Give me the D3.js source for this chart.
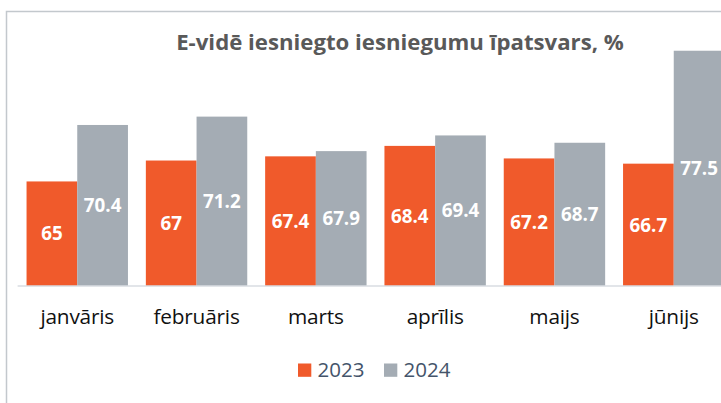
<!DOCTYPE html>
<html>
<head>
<meta charset="utf-8">
<script src="https://cdn.jsdelivr.net/npm/d3@7"></script>
<style>
  body { margin: 0; background: #fff; }
  text { font-family: "Open Sans", sans-serif; }
</style>
</head>
<body>
<div id="chart"></div>
<script>

// data
var months = ["janvāris", "februāris", "marts", "aprīlis", "maijs", "jūnijs"];
var years = ["2023", "2024"];
var values2023 = [65, 67, 67.4, 68.4, 67.2, 66.7];
var values2024 = [70.4, 71.2, 67.9, 69.4, 68.7, 77.5];
var colors = ["#f05a2b", "#a4acb4"];

var width = 721, height = 403;

var svg = d3.select("#chart")
    .append("svg")
    .attr("width", width)
    .attr("height", height);

// frame of the chart area (cut off on the right)
svg.append("path")
    .attr("d", "M6.5," + height + "V11.5H" + width)
    .attr("fill", "none")
    .attr("stroke", "#c3c8cd")
    .attr("stroke-width", 1.5);

// title
svg.append("text")
    .attr("x", 400)
    .attr("y", 50)
    .attr("text-anchor", "middle")
    .style("font-size", "22.2px")
    .style("font-weight", "bold")
    .style("fill", "#595959")
    .text("E-vidē iesniegto iesniegumu īpatsvars, %");

// scales
var x = d3.scaleBand()
    .domain(months)
    .range([17.6, 733.4])
    .paddingInner(0.15)
    .paddingOuter(0.075);

var xSub = d3.scaleBand()
    .domain(years)
    .range([0, x.bandwidth()]);

var y = d3.scaleLinear()
    .domain([55, 80])
    .range([286, 24.6]);

var rows = months.map(function (m, i) {
    return { month: m, vals: [values2023[i], values2024[i]] };
});

var groups = svg.selectAll(".grp")
    .data(rows)
    .enter()
    .append("g")
    .attr("transform", function (d) { return "translate(" + x(d.month) + ",0)"; });

var cells = groups.selectAll(".cell")
    .data(function (d) { return d.vals.map(function (v, j) { return { year: years[j], v: v, j: j }; }); })
    .enter()
    .append("g");

cells.append("rect")
    .attr("x", function (d) { return xSub(d.year); })
    .attr("width", xSub.bandwidth())
    .attr("y", function (d) { return y(d.v); })
    .attr("height", function (d) { return y(55) - y(d.v); })
    .attr("fill", function (d) { return colors[d.j]; });

// value labels, centred in the bar
cells.append("text")
    .attr("x", function (d) { return xSub(d.year) + xSub.bandwidth() / 2; })
    .attr("y", function (d) { return (y(d.v) + y(55)) / 2; })
    .attr("dy", "0.36em")
    .attr("text-anchor", "middle")
    .style("font-size", "18.8px")
    .style("font-weight", "bold")
    .style("fill", "#fff")
    .text(function (d) { return d.v; });

// x axis
var xAxis = svg.append("g")
    .attr("transform", "translate(0,286)")
    .call(d3.axisBottom(x).tickSize(0).tickPadding(0));
xAxis.select(".domain").remove();
xAxis.append("line")
    .attr("x1", 17.6)
    .attr("x2", width)
    .attr("stroke", "#d9dde2")
    .attr("stroke-width", 1.5);
xAxis.selectAll(".tick text")
    .attr("y", 38)
    .attr("dy", 0)
    .style("font-family", "'Open Sans', sans-serif")
    .style("font-size", "20.8px")
    .style("fill", "#111")
    .style("letter-spacing", "-0.2px");

// legend
var legend = svg.append("g");
var legX = [298, 384];
years.forEach(function (yr, i) {
    legend.append("rect")
        .attr("x", legX[i])
        .attr("y", 363.5)
        .attr("width", 13.3)
        .attr("height", 13.3)
        .attr("fill", colors[i]);
    legend.append("text")
        .attr("x", legX[i] + 19.5)
        .attr("y", 377)
        .style("font-size", "20.5px")
        .style("fill", "#44546a")
        .text(yr);
});

</script>
</body>
</html>
